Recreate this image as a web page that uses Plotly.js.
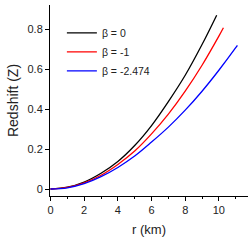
<!DOCTYPE html>
<html>
<head>
<meta charset="utf-8">
<script src="https://cdn.plot.ly/plotly-3.0.1.min.js"></script>
<style>html,body{margin:0;padding:0;background:#fff;}#chart{width:252px;height:244px;}</style>
</head>
<body>
<div id="chart"></div>
<script>
// Data
const seriesNames = ["\u03b2 = 0", "\u03b2 = -1", "\u03b2 = -2.474"];
const seriesColors = ["#000000", "#ff0000", "#0000ff"];
const rBeta0 = [0, 1, 2, 3, 4, 5, 6, 7, 8, 9, 9.87];
const zBeta0 = [0, 0.009, 0.035, 0.079, 0.138, 0.218, 0.318, 0.438, 0.57, 0.724, 0.871];
const rBetaM1 = [0, 1, 2, 3, 4, 5, 6, 7, 8, 9, 10, 10.27];
const zBetaM1 = [0, 0.0077, 0.031, 0.069, 0.123, 0.19, 0.276, 0.375, 0.49, 0.62, 0.766, 0.808];
const rBetaM2474 = [0, 1, 2, 3, 4, 5, 6, 7, 8, 9, 10, 11, 11.1];
const zBetaM2474 = [0, 0.006, 0.027, 0.062, 0.108, 0.165, 0.235, 0.31, 0.395, 0.49, 0.595, 0.708, 0.72];
const xTickVals = [0, 2, 4, 6, 8, 10];
const yTickVals = [0, 0.2, 0.4, 0.6, 0.8];

const xs = [rBeta0, rBetaM1, rBetaM2474];
const ys = [zBeta0, zBetaM1, zBetaM2474];
const traces = xs.map((x, i) => ({
  x: x, y: ys[i], type: "scatter", mode: "lines", name: seriesNames[i],
  line: {color: seriesColors[i], width: 1.3, shape: "spline"}
}));

const FONT = "Liberation Sans, Arial, Helvetica, sans-serif";
const xr = [-0.03, 11.73];
const yr = [-0.035, 0.922];
const layout = {
  width: 252, height: 244,
  margin: {l: 50, r: 4, t: 5, b: 48},
  paper_bgcolor: "#ffffff", plot_bgcolor: "#ffffff",
  font: {family: FONT, size: 11, color: "#222"},
  showlegend: true,
  legend: {x: 0.06, y: 0.93, xanchor: "left", yanchor: "top", bgcolor: "rgba(0,0,0,0)",
           font: {family: FONT, size: 10.5, color: "#222"}, itemwidth: 30, tracegroupgap: 0},
  xaxis: {range: xr, tickvals: xTickVals, ticks: "outside", ticklen: 4, tickcolor: "#000",
          showline: true, linecolor: "#000", linewidth: 1, showgrid: false, zeroline: false,
          tickfont: {family: FONT, size: 11, color: "#222"},
          minor: {dtick: 1, tick0: 0, ticks: "outside", ticklen: 2, tickcolor: "#000", showgrid: false},
          title: {text: "r (km)", font: {family: FONT, size: 13, color: "#222"}, standoff: 9}},
  yaxis: {range: yr, tickvals: yTickVals, ticks: "outside", ticklen: 4, tickcolor: "#000",
          showline: true, linecolor: "#000", linewidth: 1, showgrid: false, zeroline: false,
          tickfont: {family: FONT, size: 11, color: "#222"},
          title: {text: "Redshift (Z)", font: {family: FONT, size: 14, color: "#222"}, standoff: 5}},
  xaxis2: {range: xr, overlaying: "x", side: "top", showticklabels: false, tickvals: xTickVals,
           ticks: "inside", ticklen: 4, tickcolor: "#888", showline: true, linecolor: "#888",
           showgrid: false, zeroline: false,
           minor: {dtick: 0.5, tick0: 0, ticks: "inside", ticklen: 2, tickcolor: "#888", showgrid: false}},
  yaxis2: {range: yr, overlaying: "y", side: "right", showticklabels: false, tickvals: yTickVals,
           ticks: "inside", ticklen: 4, tickcolor: "#888", showline: true, linecolor: "#888",
           showgrid: false, zeroline: false,
           minor: {dtick: 0.2 / 3, tick0: 0, ticks: "inside", ticklen: 2, tickcolor: "#888", showgrid: false}}
};
Plotly.newPlot("chart", traces, layout, {staticPlot: true, displayModeBar: false});
</script>
</body>
</html>
